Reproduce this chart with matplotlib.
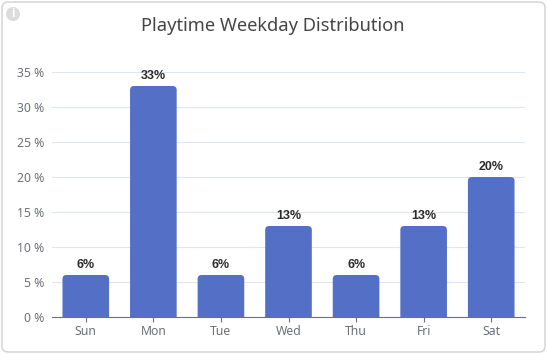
import matplotlib
matplotlib.use("Agg")
import matplotlib.pyplot as plt
from matplotlib.patches import FancyBboxPatch, Circle

days = ["Sun", "Mon", "Tue", "Wed", "Thu", "Fri", "Sat"]
playtime = [6, 33, 6, 13, 6, 13, 20]
value_labels = ["6%", "33%", "6%", "13%", "6%", "13%", "20%"]
y_ticks = [0, 5, 10, 15, 20, 25, 30, 35]

plt.rcParams['font.family'] = ['Noto Sans', 'DejaVu Sans']

W, H = 547, 354
fig = plt.figure(figsize=(W / 100, H / 100), dpi=100, facecolor='white')

# card border and info icon, kept under the axes
fig.patches.append(FancyBboxPatch((2, 2), W - 4, H - 4, boxstyle="round,pad=0,rounding_size=6",
                                  transform=None, facecolor='white', edgecolor='#d4d4d4',
                                  linewidth=1.1, zorder=-2))
fig.patches.append(Circle((13, H - 14), 7, transform=None, facecolor='#dcdcdc', edgecolor='none', zorder=-1))
fig.text(13 / W, 1 - 14 / H, "i", color='white', fontsize=9, family='Liberation Sans', fontweight='bold',
         ha='center', va='center')

ax = fig.add_axes([52 / W, 1 - 317 / H, 473 / W, 245 / H])
ax.set_xlim(-0.5, 6.5)
ax.set_ylim(0, 35)
ax.patch.set_alpha(0)

# bars, then rounded tops in their place
bar_width = 0.69
bars = ax.bar(range(len(days)), playtime, width=bar_width, color='none', zorder=2)
px_x = 473 / 7
px_y = 245 / 35
radius = 4 / px_x
for bar in bars:
    rounded = FancyBboxPatch((bar.get_x(), -2), bar.get_width(), bar.get_height() + 2,
                             boxstyle=f"round,pad=0,rounding_size={radius}",
                             mutation_aspect=px_x / px_y,
                             facecolor='#5470c6', edgecolor='none', zorder=2)
    ax.add_patch(rounded)

for i, (v, lab) in enumerate(zip(playtime, value_labels)):
    ax.annotate(lab, (i, v), xytext=(0, 4), textcoords='offset pixels', ha='center', va='bottom',
                family='Liberation Sans', fontsize=9, fontweight='bold', color='#2b2b2b')

ax.set_xticks(range(len(days)))
ax.set_xticklabels(days)
ax.set_yticks(y_ticks)
ax.set_yticklabels([f"{t} %" for t in y_ticks])
ax.tick_params(axis='x', length=3.5, width=0.8, color='#6e7079', labelcolor='#6e7079', labelsize=8.8, pad=2.5)
ax.tick_params(axis='y', length=0, labelcolor='#6e7079', labelsize=8.8, pad=5.8)
ax.grid(axis='y', color='#e0e6f1', linewidth=0.8, zorder=0)
ax.set_axisbelow(True)
for s in ['top', 'right', 'left']:
    ax.spines[s].set_visible(False)
ax.spines['bottom'].set_color('#6e7079')
ax.spines['bottom'].set_linewidth(0.8)
ax.spines['bottom'].set_zorder(3)

fig.text(273 / W, 1 - 26 / H, "Playtime Weekday Distribution", color='#464646', fontsize=13.2,
         ha='center', va='center')

fig.savefig("out.png", dpi=100)
